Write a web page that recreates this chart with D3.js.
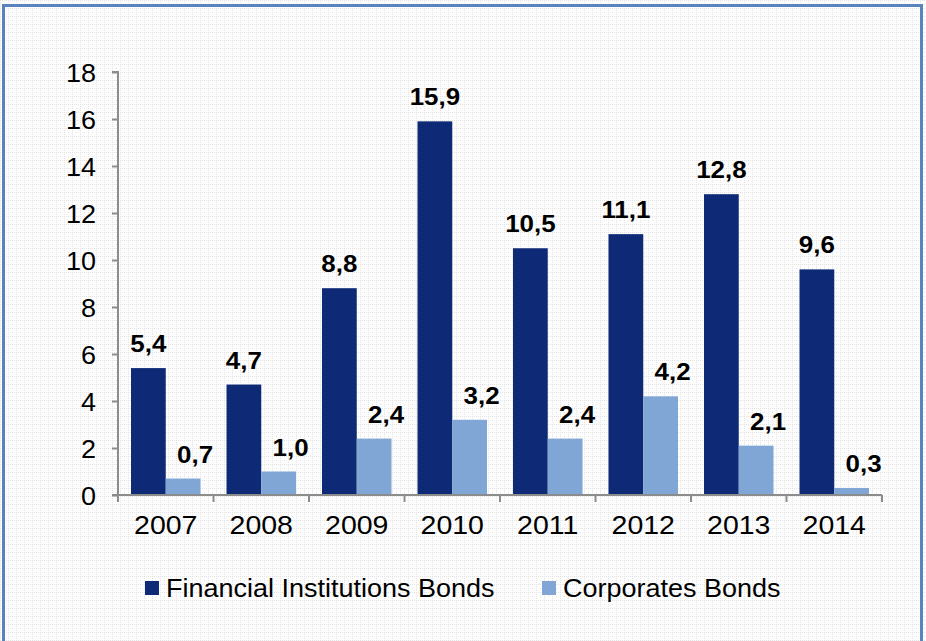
<!DOCTYPE html>
<html>
<head>
<meta charset="utf-8">
<script src="https://cdn.jsdelivr.net/npm/d3@7"></script>
<style>
  html, body { margin: 0; padding: 0; background: #ffffff; }
  svg { display: block; font-family: Arial, "Liberation Sans", sans-serif; }
</style>
</head>
<body>
<svg id="chart" width="926" height="641"></svg>
<script>
// Bond issuance by year
const years = ["2007", "2008", "2009", "2010", "2011", "2012", "2013", "2014"];
const financialBonds = [5.4, 4.7, 8.8, 15.9, 10.5, 11.1, 12.8, 9.6];
const corporateBonds = [0.7, 1.0, 2.4, 3.2, 2.4, 4.2, 2.1, 0.3];
const seriesNames = ["Financial Institutions Bonds", "Corporates Bonds"];
const yTicks = [0, 2, 4, 6, 8, 10, 12, 14, 16, 18];

const colors = ["#0e2a76", "#7fa6d4"];
const fmt = v => d3.format(".1f")(v).replace(".", ",");

const svg = d3.select("#chart");
const W = 926, H = 641;

// light dotted-grid texture background
const defs = svg.append("defs");
const pat = defs.append("pattern")
  .attr("id", "dots").attr("width", 8).attr("height", 8)
  .attr("patternUnits", "userSpaceOnUse");
pat.append("rect").attr("width", 8).attr("height", 8).attr("fill", "#fdfdfd");
[[0,0],[2,0],[4,0],[6,0],[0,2],[0,4],[0,6],[4,4]].forEach(([x, y]) => {
  pat.append("rect").attr("x", x).attr("y", y).attr("width", 1).attr("height", 1)
    .attr("fill", "#e2e2e2");
});
svg.append("rect").attr("width", W).attr("height", H).attr("fill", "url(#dots)");

// frame
svg.append("rect")
  .attr("x", 3.5).attr("y", 5.5).attr("width", 918).attr("height", 660)
  .attr("fill", "none").attr("stroke", "#5a82be").attr("stroke-width", 3);

const plot = { left: 118, right: 882, top: 72, bottom: 495 };

const x = d3.scaleBand().domain(years).range([plot.left, plot.right]).paddingInner(0).paddingOuter(0);
const inner = 13;
const x1 = d3.scaleBand().domain([0, 1])
  .range([inner, x.bandwidth() - inner]).padding(0);
const y = d3.scaleLinear().domain([0, 18]).range([plot.bottom, plot.top]);

const g = svg.append("g");

// bars and value labels
const series = [financialBonds, corporateBonds];
series.forEach((vals, si) => {
  g.selectAll(".bar" + si).data(vals).enter().append("rect")
    .attr("x", (d, i) => x(years[i]) + x1(si))
    .attr("y", d => y(d))
    .attr("width", x1.bandwidth())
    .attr("height", d => y(0) - y(d))
    .attr("fill", colors[si]);

  g.selectAll(".lab" + si).data(vals).enter().append("text")
    .attr("transform", (d, i) => {
      const cx = x(years[i]) + x1(si) + x1.bandwidth() / 2 + (si === 1 ? 12 : 0);
      return `translate(${cx},${y(d) - 16}) scale(1.08,1)`;
    })
    .attr("text-anchor", "middle")
    .attr("font-size", 24).attr("font-weight", "bold").attr("fill", "#000")
    .text(d => fmt(d));
});

// y axis
const yAxis = d3.axisLeft(y).tickValues(yTicks).tickSize(6).tickPadding(0).tickFormat(d3.format("d"));
const ya = svg.append("g").attr("transform", `translate(${plot.left},0)`).call(yAxis);
ya.select(".domain").attr("stroke", "#8c8c8c").attr("stroke-width", 2)
  .attr("d", `M-6,${plot.top}H0V${plot.bottom}`);
ya.selectAll(".tick line").attr("stroke", "#8c8c8c").attr("stroke-width", 2);
ya.selectAll(".tick text")
  .attr("x", null).attr("dy", null)
  .attr("transform", "translate(-22,9) scale(1.08,1)")
  .attr("font-size", 25).attr("fill", "#000")
  .attr("font-family", "Arial, 'Liberation Sans', sans-serif");

// x axis
const xAxis = d3.axisBottom(x).tickSize(0).tickPadding(0);
const xa = svg.append("g").attr("transform", `translate(0,${plot.bottom})`).call(xAxis);
xa.select(".domain").attr("stroke", "#8c8c8c").attr("stroke-width", 2)
  .attr("d", `M${plot.left - 6},0H${plot.right}`);
xa.selectAll(".tick text")
  .attr("y", null).attr("dy", null)
  .attr("transform", "translate(0,39) scale(1.14,1)")
  .attr("font-size", 25).attr("fill", "#000")
  .attr("font-family", "Arial, 'Liberation Sans', sans-serif");
// category separators
const seps = years.map(yr => x(yr)).concat([plot.right]);
xa.selectAll(".sep").data(seps).enter().append("line")
  .attr("x1", d => d).attr("x2", d => d).attr("y1", 0).attr("y2", 7)
  .attr("stroke", "#8c8c8c").attr("stroke-width", 2);

// legend
const legendPos = [145, 542];
const lg = svg.append("g");
seriesNames.forEach((name, i) => {
  lg.append("rect").attr("x", legendPos[i]).attr("y", 581)
    .attr("width", 14).attr("height", 14).attr("fill", colors[i]);
  lg.append("text")
    .attr("transform", `translate(${legendPos[i] + 21},597) scale(1.08,1)`)
    .attr("font-size", 25).attr("fill", "#000").text(name);
});
</script>
</body>
</html>
